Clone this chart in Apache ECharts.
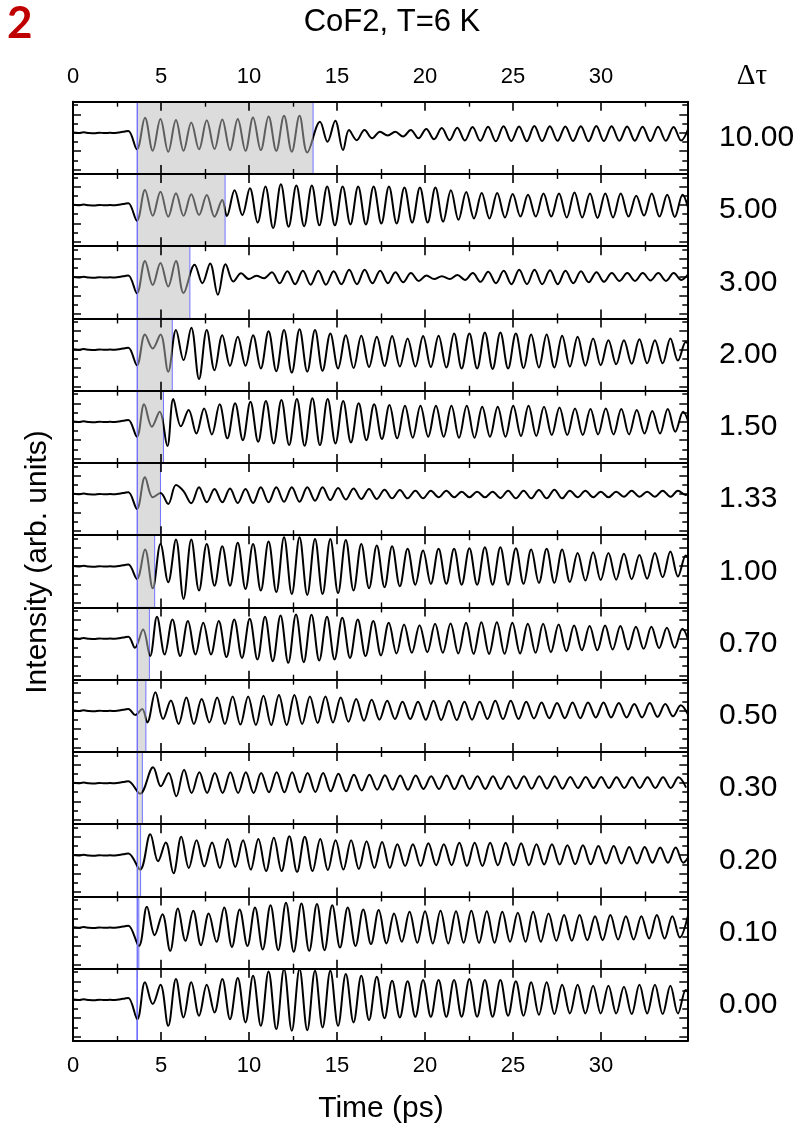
<!DOCTYPE html>
<html>
<head>
<meta charset="utf-8">
<script src="https://cdn.jsdelivr.net/npm/echarts@6/dist/echarts.min.js"></script>
<style>
  html, body { margin: 0; padding: 0; background: #fff; }
  #chart { width: 810px; height: 1134px; }
</style>
</head>
<body>
<div id="chart"></div>
<script>
// ---- Data -------------------------------------------------------------
// Delay between the two pulses for each trace (ps), top to bottom.
const TAU_LABELS = ['10.00', '5.00', '3.00', '2.00', '1.50', '1.33', '1.00', '0.70', '0.50', '0.30', '0.20', '0.10', '0.00'];
const TAU = [10, 5, 3, 2, 1.5, 1.33, 1, 0.7, 0.5, 0.3, 0.2, 0.1, 0];
const PULSE_START = 3.64;           // ps, arrival of the first pulse
const TIME_TICKS = [0, 5, 10, 15, 20, 25, 30];

// Baseline before the pulse (shared by all traces).
const PRE_T = [0, 0.3, 0.6, 0.9, 1.2, 1.5, 1.8, 2.1, 2.4, 2.7, 2.95, 3.15];
const PRE_V = [0.02, -0.03, 0.04, -0.02, -0.05, 0.01, -0.04, 0.0, -0.03, 0.05, 0.14, 0.2];

// Times of successive extrema (half-period grid, ps).
const EXT_T = [4.09, 4.53, 4.97, 5.41, 5.85, 6.28, 6.72, 7.16, 7.60, 8.04,
  8.48, 8.92, 9.36, 9.80, 10.23, 10.67, 11.11, 11.55, 11.99, 12.43,
  12.87, 13.31, 13.75, 14.18, 14.62, 15.06, 15.50, 15.94, 16.38, 16.82,
  17.26, 17.70, 18.13, 18.57, 19.01, 19.45, 19.89, 20.33, 20.77, 21.21,
  21.65, 22.08, 22.52, 22.96, 23.40, 23.84, 24.28, 24.72, 25.16, 25.60,
  26.03, 26.47, 26.91, 27.35, 27.79, 28.23, 28.67, 29.11, 29.55, 29.98,
  30.42, 30.86, 31.30, 31.74, 32.18, 32.62, 33.06, 33.50, 33.94, 34.37,
  34.81, 35.25];

// Per trace: leading points [t, value], phase offset segments [fromIndex, dt], extrema values.
const LEAD_1000 = [[3.63, -1.80]];
const SHIFT_1000 = [[0, 0], [22, 0.28], [26, 0.18]];
const EXT_1000 = [1.62, -1.95, 1.48, -2.06, 1.37, -1.95, 1.12, -1.80, 1.34, -1.77,
  1.44, -1.88, 1.48, -1.95, 1.66, -1.88, 1.77, -1.95, 1.84, -2.06,
  1.84, -2.13, 1.20, -0.97, 1.30, -1.88, 0.29, -0.80, 0.30, -0.60,
  0.10, -0.30, 0.10, -0.40, 0.30, -0.60, 0.40, -0.70, 0.50, -0.80,
  0.55, -0.85, 0.62, -0.88, 0.66, -0.92, 0.70, -0.90, 0.68, -0.92,
  0.72, -0.90, 0.70, -0.88, 0.68, -0.90, 0.70, -0.92, 0.72, -0.90,
  0.70, -0.88, 0.68, -0.86, 0.66, -0.90, 0.64, -0.86, 0.62, -0.84, 0.62];

const LEAD_500 = [[3.63, -1.70]];
const SHIFT_500 = [[0, 0], [11, -0.18]];
const EXT_500 = [1.62, -1.16, 1.44, -1.26, 1.26, -1.16, 1.16, -1.08, 1.08, -1.26,
  0.54, -1.20, 1.60, -1.10, 1.80, -1.90, 2.00, -2.50, 2.25, -2.35,
  2.10, -2.30, 2.10, -2.20, 2.00, -2.20, 2.00, -2.10, 2.00, -2.10,
  2.00, -2.00, 2.00, -2.00, 1.90, -1.90, 1.90, -1.90, 1.90, -1.80,
  1.60, -1.60, 1.40, -1.45, 1.30, -1.45, 1.30, -1.35, 1.20, -1.25,
  1.10, -1.25, 1.25, -1.25, 1.25, -1.35, 1.35, -1.35, 1.25, -1.40,
  1.25, -1.35, 1.25, -1.25, 1.00, -1.15, 1.25, -1.25, 1.10, -1.30, 1.10, -1.20];

const LEAD_300 = [[3.63, -1.73]];
const SHIFT_300 = [[0, 0], [6, 0.19]];
const EXT_300 = [1.77, -0.85, 1.55, -1.00, 1.75, -1.70, 1.34, -0.65, 1.50, -1.90,
  1.41, -0.47, 0.43, -0.20, 0.15, -0.10, 0.55, -0.65, 0.65, -0.75,
  0.70, -0.80, 0.70, -0.80, 0.65, -0.75, 0.80, -0.75, 0.80, -0.65,
  0.70, -0.65, 0.55, -0.55, 0.45, -0.40, 0.20, -0.20, 0.10, -0.20,
  0.25, -0.30, 0.45, -0.50, 0.60, -0.65, 0.70, -0.75, 0.80, -0.75,
  0.80, -0.75, 0.75, -0.75, 0.70, -0.65, 0.65, -0.55, 0.55, -0.50,
  0.45, -0.40, 0.45, -0.40, 0.45, -0.35, 0.45, -0.40, 0.45, -0.30, 0.45];

const LEAD_200 = [[3.63, -1.70]];
const SHIFT_200 = [[0, 0]];
const EXT_200 = [1.62, 0.10, 1.62, -2.40, 2.10, -1.15, 2.35, -3.20, 2.10, -2.25,
  1.55, -1.77, 1.37, -1.77, 1.55, -2.05, 1.98, -2.35, 2.10, -2.50,
  2.20, -2.40, 2.10, -2.30, 1.73, -2.05, 1.55, -2.00, 1.48, -1.90,
  1.37, -1.80, 1.45, -1.85, 1.20, -1.85, 1.45, -1.90, 1.48, -1.95,
  1.73, -2.05, 1.73, -2.05, 1.84, -2.10, 1.84, -2.05, 1.73, -2.00,
  1.62, -1.95, 1.62, -1.95, 1.48, -1.85, 1.37, -1.75, 1.20, -1.70,
  1.00, -1.60, 1.00, -1.55, 1.10, -1.50, 1.00, -1.50, 1.20, -1.20, 0.80, -1.10];

const LEAD_150 = [[3.63, -1.62]];
const SHIFT_150 = [[0, -0.05], [4, -0.15]];
const EXT_150 = [1.88, -0.54, 1.08, -2.63, 2.45, -0.50, 1.27, -1.27, 1.44, -1.37,
  1.88, -1.80, 1.99, -1.99, 2.17, -2.17, 2.24, -2.35, 2.35, -2.53,
  2.45, -2.60, 2.53, -2.53, 2.45, -2.35, 2.24, -2.24, 1.99, -1.99,
  1.88, -1.88, 1.80, -1.80, 1.73, -1.73, 1.73, -1.62, 1.73, -1.62,
  1.73, -1.73, 1.73, -1.73, 1.62, -1.62, 1.62, -1.62, 1.73, -1.53,
  1.73, -1.53, 1.62, -1.44, 1.53, -1.44, 1.44, -1.44, 1.37, -1.37,
  1.44, -1.37, 1.37, -1.37, 1.27, -1.27, 1.17, -1.27, 1.37, -1.08, 1.08, -1.00];

const LEAD_133 = [[3.63, -1.62]];
const SHIFT_133 = [[0, 0]];
const EXT_133 = [1.80, -0.36, 0.10, -1.08, 0.97, 0.30, -1.00, 0.72, -0.90, 0.54,
  -0.90, 0.60, -0.97, 0.54, -0.97, 0.72, -0.90, 0.72, -0.84, 0.72,
  -0.84, 0.72, -0.72, 0.72, -0.65, 0.65, -0.60, 0.60, -0.54, 0.54,
  -0.54, 0.47, -0.47, 0.43, -0.47, 0.36, -0.47, 0.36, -0.36, 0.36,
  -0.36, 0.25, -0.36, 0.25, -0.36, 0.25, -0.43, 0.36, -0.47, 0.36,
  -0.47, 0.43, -0.47, 0.47, -0.47, 0.36, -0.36, 0.36, -0.36, 0.25,
  -0.36, 0.25, -0.30, 0.36, -0.30, 0.25, -0.30, 0.36, -0.30, 0.36, -0.10, 0.30];

const LEAD_100 = [[3.63, -1.37]];
const SHIFT_100 = [[0, 0]];
const EXT_100 = [1.80, -2.38, 2.42, -1.73, 2.90, -3.54, 2.90, -2.63, 2.42, -2.10,
  2.17, -2.10, 2.53, -2.45, 2.42, -2.63, 2.67, -2.80, 3.14, -3.00,
  3.14, -3.10, 2.96, -3.00, 2.96, -2.90, 2.85, -2.63, 2.42, -2.38,
  2.24, -2.27, 2.17, -2.17, 1.88, -2.00, 1.70, -1.90, 1.88, -1.90,
  1.88, -2.00, 1.95, -2.00, 2.06, -2.00, 2.06, -2.00, 1.95, -1.90,
  1.80, -1.80, 1.88, -1.80, 1.80, -1.70, 1.44, -1.55, 1.52, -1.50,
  1.44, -1.45, 1.34, -1.40, 1.23, -1.35, 1.44, -1.20, 1.60, -1.10, 1.15, -1.00];

const LEAD_070 = [[3.52, -1.00], [3.98, 0.97], [4.38, -1.90]];
const SHIFT_070 = [[0, 0.68]];
const EXT_070 = [2.35, -1.73, 2.06, -1.90, 1.88, -1.73, 1.70, -1.73, 1.88, -2.00,
  2.06, -2.10, 2.13, -2.27, 2.35, -2.45, 2.49, -2.63, 2.60, -2.56,
  2.56, -2.38, 2.35, -2.27, 2.24, -2.10, 2.06, -1.90, 1.88, -1.84,
  1.70, -1.62, 1.52, -1.55, 1.44, -1.48, 1.59, -1.55, 1.62, -1.62,
  1.70, -1.66, 1.77, -1.66, 1.77, -1.66, 1.70, -1.62, 1.59, -1.55,
  1.59, -1.48, 1.52, -1.37, 1.41, -1.27, 1.34, -1.27, 1.41, -1.19,
  1.34, -1.19, 1.27, -1.12, 1.27, -1.05, 1.16, -1.00, 1.05, -0.80];

const LEAD_050 = [[3.54, -0.47], [3.93, 0.18], [4.22, -1.26]];
const SHIFT_050 = [[0, 0.59]];
const EXT_050 = [2.00, -0.90, 1.10, -1.44, 1.44, -1.44, 1.26, -1.26, 1.44, -1.44,
  1.55, -1.50, 1.55, -1.55, 1.62, -1.55, 1.70, -1.55, 1.70, -1.44,
  1.55, -1.33, 1.55, -1.26, 1.44, -1.19, 1.26, -1.08, 1.19, -0.97,
  1.08, -0.90, 0.97, -0.90, 0.97, -0.97, 1.08, -1.00, 1.08, -1.00,
  0.97, -0.97, 0.97, -0.90, 1.08, -0.90, 1.08, -0.90, 0.97, -0.83,
  0.90, -0.80, 0.83, -0.80, 0.90, -0.80, 0.90, -0.72, 0.90, -0.72,
  0.83, -0.72, 0.72, -0.72, 0.83, -0.65, 0.72, -0.60, 0.60, -0.50];

const LEAD_030 = [[3.81, -1.16]];
const SHIFT_030 = [[0, 0.46]];
const EXT_030 = [1.70, -0.36, 1.08, -1.44, 1.44, -1.08, 1.16, -1.08, 1.08, -1.08,
  1.16, -1.08, 1.16, -1.08, 1.08, -1.00, 1.16, -1.00, 1.16, -1.00,
  1.08, -0.97, 1.08, -0.90, 1.00, -0.90, 0.90, -0.80, 0.90, -0.72,
  0.83, -0.72, 0.80, -0.72, 0.80, -0.65, 0.72, -0.65, 0.80, -0.65,
  0.80, -0.65, 0.72, -0.65, 0.72, -0.65, 0.72, -0.61, 0.72, -0.61,
  0.72, -0.61, 0.72, -0.61, 0.65, -0.54, 0.65, -0.54, 0.65, -0.54,
  0.61, -0.54, 0.61, -0.54, 0.61, -0.54, 0.61, -0.54, 0.61, -0.50];

const LEAD_020 = [[3.81, -1.55]];
const SHIFT_020 = [[0, 0.30]];
const EXT_020 = [2.27, -0.65, 1.37, -1.95, 2.00, -1.37, 1.62, -1.20, 1.37, -1.37,
  1.77, -1.27, 1.62, -1.55, 1.77, -1.70, 1.88, -1.70, 2.06, -1.80,
  2.00, -1.70, 1.77, -1.60, 1.62, -1.55, 1.62, -1.48, 1.52, -1.37,
  1.44, -1.37, 1.20, -1.16, 1.20, -1.16, 1.30, -1.08, 1.20, -1.08,
  1.34, -1.16, 1.34, -1.16, 1.34, -1.08, 1.34, -1.08, 1.30, -1.08,
  1.20, -1.00, 1.20, -1.00, 1.08, -0.97, 1.08, -0.97, 1.00, -0.90,
  1.00, -0.90, 0.90, -0.90, 0.90, -0.80, 0.83, -0.80, 0.83, -0.80, 0.30];

const LEAD_010 = [[3.74, -2.00]];
const SHIFT_010 = [[0, 0.11]];
const EXT_010 = [2.24, -0.83, 1.44, -2.53, 2.06, -1.44, 1.80, -1.91, 1.52, -1.55,
  2.17, -2.10, 1.95, -2.00, 2.17, -2.38, 2.42, -2.45, 2.67, -2.63,
  2.60, -2.53, 2.53, -2.45, 2.42, -2.17, 2.17, -2.00, 1.95, -1.80,
  1.88, -1.73, 1.52, -1.55, 1.70, -1.66, 1.77, -1.73, 1.80, -1.73,
  1.77, -1.66, 1.80, -1.66, 1.77, -1.66, 1.70, -1.55, 1.59, -1.55,
  1.70, -1.55, 1.52, -1.44, 1.34, -1.44, 1.34, -1.37, 1.23, -1.37,
  1.34, -1.30, 1.23, -1.30, 1.23, -1.19, 1.34, -1.19, 1.23, -1.08, 1.16];

const LEAD_000 = [[3.65, -2.10]];
const SHIFT_000 = [[0, 0]];
const EXT_000 = [1.88, -0.47, 1.62, -2.82, 2.24, -1.91, 1.88, -1.73, 1.62, -1.37,
  2.24, -2.10, 2.35, -2.45, 2.60, -2.82, 3.07, -3.18, 3.32, -3.36,
  3.32, -3.29, 3.14, -3.00, 3.14, -2.82, 2.78, -2.45, 2.60, -2.20,
  2.49, -2.00, 2.06, -1.91, 1.99, -1.84, 2.13, -1.84, 2.13, -1.84,
  2.13, -1.84, 2.24, -1.84, 2.13, -1.84, 2.13, -1.73, 1.99, -1.73,
  1.88, -1.62, 1.88, -1.55, 1.62, -1.48, 1.62, -1.48, 1.52, -1.48,
  1.52, -1.48, 1.41, -1.55, 1.62, -1.48, 1.62, -1.55, 1.52, -1.48, 1.05, -1.20];

const TRACES = [
  [LEAD_1000, SHIFT_1000, EXT_1000], [LEAD_500, SHIFT_500, EXT_500],
  [LEAD_300, SHIFT_300, EXT_300], [LEAD_200, SHIFT_200, EXT_200],
  [LEAD_150, SHIFT_150, EXT_150], [LEAD_133, SHIFT_133, EXT_133],
  [LEAD_100, SHIFT_100, EXT_100], [LEAD_070, SHIFT_070, EXT_070],
  [LEAD_050, SHIFT_050, EXT_050], [LEAD_030, SHIFT_030, EXT_030],
  [LEAD_020, SHIFT_020, EXT_020], [LEAD_010, SHIFT_010, EXT_010],
  [LEAD_000, SHIFT_000, EXT_000]
];

// ---- Layout ---------------------------------------------------------
const FONT = '"Liberation Sans", Arial, Helvetica, sans-serif';
const LEFT = 73, RIGHT_EDGE = 687.3, TOP0 = 101.7, PANEL_H = 72.25;
const X_MAX = 34.9;
const Y_MIN = -4.46, Y_MAX = 3.36;
const LINE_COLOR = '#000';
const WINDOW_LINE = '#5e5e5e';
const WINDOW_FILL = '#dcdcdc';
const WINDOW_EDGE = '#7373ff';

function buildTrace(lead, shift, ext) {
  const pts = PRE_T.map((t, k) => [t, PRE_V[k]]);
  lead.forEach(p => pts.push([p[0], p[1]]));
  ext.forEach((v, j) => {
    if (j >= EXT_T.length) return;
    let dt = 0;
    shift.forEach(seg => { if (j >= seg[0]) dt = seg[1]; });
    pts.push([+(EXT_T[j] + dt).toFixed(3), v]);
  });
  return pts;
}

const grids = [], xAxes = [], yAxes = [], series = [], visualMaps = [], graphics = [];
const n = TRACES.length;

TRACES.forEach((tr, i) => {
  const top = TOP0 + i * PANEL_H;
  const first = i === 0, last = i === n - 1;
  grids.push({ left: LEFT, top: top, width: RIGHT_EDGE - LEFT, height: PANEL_H });

  const xBase = {
    gridIndex: i, type: 'value', min: 0, max: X_MAX, interval: 5, z: 5,
    axisLine: { show: true, onZero: false, lineStyle: { color: '#000', width: 2 } },
    axisTick: { show: true, inside: true, length: 9, lineStyle: { color: '#000', width: 1.6 } },
    minorTick: { show: true, splitNumber: 2, length: 5, lineStyle: { color: '#000', width: 1.4 } },
    splitLine: { show: false }, minorSplitLine: { show: false }
  };
  xAxes.push(Object.assign({}, xBase, {
    position: 'bottom',
    axisLabel: { show: last, margin: 14, fontSize: 22, color: '#000', fontFamily: FONT,
      customValues: TIME_TICKS }
  }));
  xAxes.push(Object.assign({}, xBase, {
    position: 'top',
    axisLabel: { show: first, margin: 14, fontSize: 22, color: '#000', fontFamily: FONT,
      customValues: TIME_TICKS }
  }));

  const yBase = {
    gridIndex: i, type: 'value', min: Y_MIN, max: Y_MAX, z: 5,
    axisLabel: { show: false }, splitLine: { show: false }
  };
  ['left', 'right'].forEach(side => {
    yAxes.push(Object.assign({}, yBase, {
      position: side,
      axisLine: { show: true, onZero: false, lineStyle: { color: '#000', width: 2 } },
      axisTick: { show: true, inside: true, length: 8, customValues: [-4, -2, 0, 2],
        lineStyle: { color: '#000', width: 1.5 } }
    }));
    yAxes.push(Object.assign({}, yBase, {
      position: side,
      axisLine: { show: false, onZero: false },
      axisTick: { show: true, inside: true, length: 5, customValues: [-3, -1, 1, 3],
        lineStyle: { color: '#000', width: 1.5 } }
    }));
  });

  const winEnd = PULSE_START + TAU[i];
  series.push({
    type: 'line',
    xAxisIndex: 2 * i,
    yAxisIndex: 4 * i,
    data: buildTrace(tr[0], tr[1], tr[2]),
    smooth: 0.36,
    showSymbol: false,
    symbol: 'none',
    lineStyle: { width: 2 },
    z: 3,
    markArea: {
      silent: true,
      itemStyle: { color: WINDOW_FILL, borderColor: WINDOW_EDGE, borderWidth: 1 },
      data: [[{ xAxis: PULSE_START }, { xAxis: winEnd }]]
    },
    markLine: {
      silent: true, symbol: 'none', label: { show: false },
      lineStyle: { color: WINDOW_EDGE, width: 1, type: 'solid' },
      data: [{ xAxis: PULSE_START }]
    }
  });

  visualMaps.push({
    type: 'piecewise', show: false, seriesIndex: i, dimension: 0,
    pieces: [
      { lt: PULSE_START, color: LINE_COLOR },
      { gte: PULSE_START, lte: winEnd, color: WINDOW_LINE },
      { gt: winEnd, color: LINE_COLOR }
    ],
    outOfRange: { color: LINE_COLOR }
  });

  graphics.push({
    type: 'text', x: 719, y: top + PANEL_H / 2,
    style: { text: TAU_LABELS[i], font: '30px ' + FONT, fill: '#000',
      align: 'left', verticalAlign: 'middle' }
  });
});

graphics.push(
  { type: 'text', x: 7, y: 2,
    style: { text: '2', font: 'bold 44px Lato, "Open Sans", sans-serif', fill: '#c00000',
      shadowColor: 'rgba(0,0,0,0.45)', shadowBlur: 3, shadowOffsetX: 2, shadowOffsetY: 2 } },
  { type: 'text', x: 392, y: 22,
    style: { text: 'CoF2, T=6 K', font: '31px ' + FONT, fill: '#000',
      align: 'center', verticalAlign: 'middle' } },
  { type: 'text', x: 752, y: 76,
    style: { text: 'Δτ', font: '29px "Liberation Serif", "DejaVu Serif", serif', fill: '#000',
      align: 'center', verticalAlign: 'middle' } },
  { type: 'text', x: 381, y: 1109,
    style: { text: 'Time (ps)', font: '30px ' + FONT, fill: '#000',
      align: 'center', verticalAlign: 'middle' } },
  { type: 'text', x: 38, y: 562, rotation: Math.PI / 2,
    style: { text: 'Intensity (arb. units)', font: '30px ' + FONT, fill: '#000',
      align: 'center', verticalAlign: 'middle' } }
);

const chart = echarts.init(document.getElementById('chart'), null, { renderer: 'canvas' });
chart.setOption({
  animation: false,
  backgroundColor: '#fff',
  grid: grids,
  xAxis: xAxes,
  yAxis: yAxes,
  visualMap: visualMaps,
  series: series,
  graphic: graphics
});
</script>
</body>
</html>
